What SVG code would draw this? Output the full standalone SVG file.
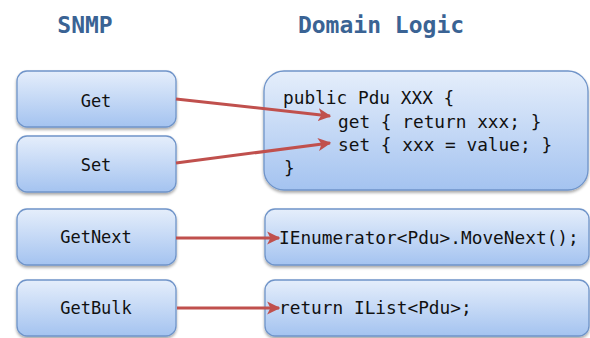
<svg xmlns="http://www.w3.org/2000/svg" width="590" height="338" viewBox="0 0 590 338">
  <defs>
    <linearGradient id="boxFill" x1="0" y1="0" x2="0" y2="1">
      <stop offset="0" stop-color="#e5eefb"/>
      <stop offset="1" stop-color="#a4c3f0"/>
    </linearGradient>
    <filter id="shadow" x="-5%" y="-10%" width="110%" height="130%">
      <feGaussianBlur in="SourceAlpha" stdDeviation="1.5"/>
      <feOffset dx="0" dy="2" result="b"/>
      <feComponentTransfer><feFuncA type="linear" slope="0.35"/></feComponentTransfer>
      <feMerge><feMergeNode/><feMergeNode in="SourceGraphic"/></feMerge>
    </filter>
    <marker id="arrow" viewBox="0 0 10 10" refX="9" refY="5" markerWidth="4.4" markerHeight="4.4" markerUnits="strokeWidth" orient="auto">
      <path d="M0,0 L10,5 L0,10 L2.5,5 z" fill="#c0504d"/>
    </marker>
  </defs>
  <style>
    .box { fill: url(#boxFill); stroke: #6f94c9; stroke-width: 1.3; filter: url(#shadow); }
    .title { font-family: "DejaVu Sans Mono", monospace; font-weight: bold; font-size: 23px; fill: #3a6394; text-anchor: middle; }
    .label { font-family: "DejaVu Sans Mono", monospace; font-size: 17px; fill: #111; text-anchor: middle; }
    .code { font-family: "DejaVu Sans Mono", monospace; font-size: 17.8px; fill: #111; white-space: pre; }
    .conn { stroke: #c0504d; stroke-width: 3; fill: none; marker-end: url(#arrow); }
  </style>

  <rect width="590" height="338" fill="#ffffff"/>

  <!-- column headings -->
  <text class="title" x="85" y="33">SNMP</text>
  <text class="title" x="381" y="33">Domain Logic</text>

  <!-- SNMP operations -->
  <g id="get">
    <rect class="box" x="17" y="71" width="159" height="56" rx="10"/>
    <text class="label" x="96" y="107">Get</text>
  </g>
  <g id="set">
    <rect class="box" x="17" y="136" width="159" height="56" rx="10"/>
    <text class="label" x="96" y="171">Set</text>
  </g>
  <g id="getnext">
    <rect class="box" x="17" y="209" width="159" height="56" rx="10"/>
    <text class="label" x="96" y="243">GetNext</text>
  </g>
  <g id="getbulk">
    <rect class="box" x="17" y="280" width="159" height="56" rx="10"/>
    <text class="label" x="96" y="314">GetBulk</text>
  </g>

  <!-- domain logic -->
  <g id="property">
    <rect class="box" x="264" y="71" width="324" height="119" rx="20"/>
    <text class="code" x="283" y="104">public Pdu XXX {</text>
    <text class="code" x="338" y="128">get { return xxx; }</text>
    <text class="code" x="338" y="151">set { xxx = value; }</text>
    <text class="code" x="284" y="174">}</text>
  </g>
  <g id="enumerator">
    <rect class="box" x="265" y="209" width="324" height="56" rx="10"/>
    <text class="code" x="279" y="244">IEnumerator&lt;Pdu&gt;.MoveNext();</text>
  </g>
  <g id="list">
    <rect class="box" x="265" y="280" width="324" height="56" rx="10"/>
    <text class="code" x="279" y="314">return IList&lt;Pdu&gt;;</text>
  </g>

  <!-- mappings -->
  <g id="connectors">
    <line class="conn" x1="176" y1="99" x2="330" y2="116"/>
    <line class="conn" x1="176" y1="163" x2="330" y2="143"/>
    <line class="conn" x1="176" y1="238" x2="279" y2="238"/>
    <line class="conn" x1="177" y1="308" x2="279" y2="308"/>
  </g>
</svg>
